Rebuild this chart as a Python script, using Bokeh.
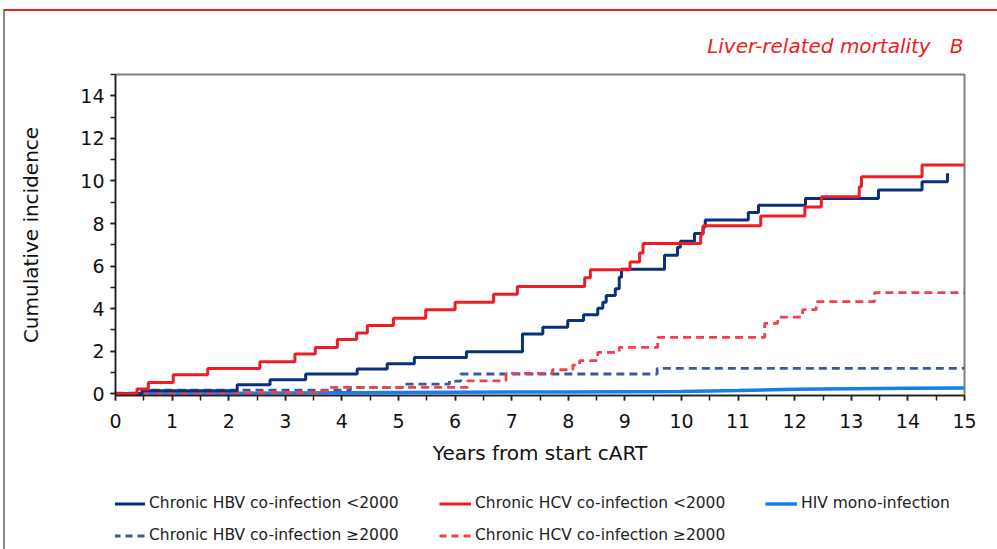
from bokeh.plotting import figure
from bokeh.layouts import column
from bokeh.models import Range1d, Legend, LegendItem, FixedTicker, InlineStyleSheet
from bokeh.embed import file_html
from bokeh.resources import INLINE

# ---- data ----
hbv_pre_x = [0, 0.47, 2.15, 2.73, 3.36, 4.27, 4.8, 5.28, 6.2, 7.19, 7.55, 7.99, 8.27, 8.52, 8.61,
             8.67, 8.83, 8.9, 8.94, 9.7, 9.93, 9.98, 10.23, 10.38, 10.42, 11.18, 11.36, 12.19,
             13.48, 14.25, 14.7]
hbv_pre_y = [0.0, 0.14, 0.42, 0.66, 0.93, 1.16, 1.41, 1.71, 1.98, 2.81, 3.13, 3.44, 3.71, 4.02, 4.3,
             4.62, 4.93, 5.48, 5.85, 6.51, 6.88, 7.17, 7.53, 7.84, 8.16, 8.52, 8.86, 9.18,
             9.57, 9.96, 10.36]

hcv_pre_x = [0, 0.38, 0.58, 1.02, 1.63, 2.55, 3.17, 3.53, 3.92, 4.26, 4.45, 4.91, 5.48, 6.0, 6.68,
             7.1, 8.29, 8.39, 9.09, 9.26, 9.32, 10.34, 10.38, 11.4, 12.18, 12.47, 13.14, 13.18,
             14.25, 15.0]
hcv_pre_y = [0.0, 0.22, 0.53, 0.9, 1.19, 1.51, 1.87, 2.18, 2.55, 2.86, 3.21, 3.55, 3.95, 4.3, 4.68,
             5.04, 5.45, 5.83, 6.19, 6.61, 7.06, 7.5, 7.9, 8.35, 8.78, 9.26, 9.73, 10.2,
             10.75, 10.75]

hbv_post_x = [0, 0.47, 4.15, 5.1, 5.9, 6.1, 9.57, 15.0]
hbv_post_y = [0.03, 0.17, 0.3, 0.45, 0.6, 0.93, 1.19, 1.19]

hcv_post_x = [0, 1.75, 3.56, 3.78, 6.22, 6.9, 7.72, 8.08, 8.2, 8.52, 8.9, 9.58, 11.47, 11.7,
              12.14, 12.38, 13.41, 15.0]
hcv_post_y = [0.0, 0.05, 0.14, 0.3, 0.61, 0.96, 1.13, 1.35, 1.56, 1.95, 2.18, 2.65, 3.31, 3.6,
              3.95, 4.33, 4.75, 4.75]

hiv_x = [0, 2, 4, 6, 8, 10, 11, 12, 13, 14, 15]
hiv_y = [0.0, 0.02, 0.05, 0.07, 0.09, 0.11, 0.15, 0.21, 0.24, 0.26, 0.27]

x_ticks = list(range(0, 16))
y_ticks = list(range(0, 15, 2))

names = ["Chronic HBV co-infection <2000", "Chronic HCV co-infection <2000", "HIV mono-infection",
         "Chronic HBV co-infection \u22652000", "Chronic HCV co-infection \u22652000"]
title_text = "Liver-related mortality\u00a0\u00a0\u00a0B"

FONT = "DejaVu Sans"
NAVY = "#0b2f78"
RED = "#ee1c25"
NAVY_D = "#3b5b98"
RED_D = "#f0404f"
BLUE = "#1480ee"

W = 997
H1, H2 = 470, 79

p = figure(width=W, height=H1, output_backend="svg", toolbar_location=None,
           x_range=Range1d(0, 15), y_range=Range1d(-0.08, 15),
           min_border_left=115, min_border_right=33, min_border_top=74, min_border_bottom=75)
p.grid.visible = False
p.outline_line_color = "#808080"
p.outline_line_width = 2
p.border_fill_color = None
p.background_fill_color = "white"
p.stylesheets = [InlineStyleSheet(css=(
    ":host { background: "
    "linear-gradient(#ee1c25, #ee1c25) 4px 9px / 100% 2px no-repeat, "
    "linear-gradient(#8a8a8a, #8a8a8a) 3px 9px / 2px 100% no-repeat, white; }"))]

# title
p.title.text = title_text
p.title.align = "right"
p.title.text_font = FONT
p.title.text_font_size = "20px"
p.title.text_font_style = "italic"
p.title.text_color = RED
p.title.standoff = 33
p.title.offset = 1

series = [(hbv_pre_x, hbv_pre_y), (hcv_pre_x, hcv_pre_y), (hiv_x, hiv_y),
          (hbv_post_x, hbv_post_y), (hcv_post_x, hcv_post_y)]

r_hiv = p.line(hiv_x, hiv_y, line_color=BLUE, line_width=3.5)
r_hbv2 = p.step(hbv_post_x, hbv_post_y, mode="after", line_color=NAVY_D, line_width=2.8, line_dash="8 5")
r_hcv2 = p.step(hcv_post_x, hcv_post_y, mode="after", line_color=RED_D, line_width=2.8, line_dash="8 5")
r_hbv1 = p.step(hbv_pre_x, hbv_pre_y, mode="after", line_color=NAVY, line_width=3)
r_hcv1 = p.step(hcv_pre_x, hcv_pre_y, mode="after", line_color=RED, line_width=3)

# axes
xa = p.xaxis[0]
xa.ticker = FixedTicker(ticks=x_ticks, minor_ticks=[i / 2 for i in range(31)])
xa.axis_label = "Years from start cART"
ya = p.yaxis[0]
ya.ticker = FixedTicker(ticks=y_ticks, minor_ticks=list(range(0, 16)))
ya.axis_label = "Cumulative incidence"
for ax in (xa, ya):
    ax.axis_line_color = "#222222"
    ax.axis_line_width = 1.5
    ax.major_tick_line_color = "#222222"
    ax.minor_tick_line_color = "#222222"
    ax.major_tick_line_width = 1.5
    ax.minor_tick_line_width = 1.5
    ax.major_tick_in = 0
    ax.minor_tick_in = 0
    ax.major_tick_out = 5
    ax.minor_tick_out = 5
    ax.major_label_text_font = FONT
    ax.major_label_text_font_size = "19px"
    ax.major_label_text_color = "#111111"
    ax.axis_label_text_font = FONT
    ax.axis_label_text_font_size = "20px"
    ax.axis_label_text_font_style = "normal"
    ax.axis_label_text_color = "#111111"
xa.major_label_standoff = 13
xa.axis_label_standoff = 10
ya.major_label_standoff = 6
ya.axis_label_standoff = 34

# legend figure below the chart (its series lie outside its visible range;
# they exist only to give the legend its line samples)
q = figure(width=W, height=H2, output_backend="svg", toolbar_location=None,
           x_range=Range1d(0, 15), y_range=Range1d(100, 101),
           min_border_left=0, min_border_right=0, min_border_top=0, min_border_bottom=0)
q.axis.visible = False
q.grid.visible = False
q.outline_line_color = None
q.border_fill_color = None
q.background_fill_color = None
q.stylesheets = [InlineStyleSheet(css=(
    ":host { background: "
    "linear-gradient(#8a8a8a, #8a8a8a) 3px 0px / 2px 100% no-repeat, white; }"))]

styles = [dict(line_color=NAVY, line_width=3),
          dict(line_color=RED, line_width=3),
          dict(line_color=BLUE, line_width=3.5),
          dict(line_color=NAVY_D, line_width=2.8, line_dash="7 5"),
          dict(line_color=RED_D, line_width=2.8, line_dash="7 5")]
items = []
for name, st, (sx, sy) in zip(names, styles, series):
    r = q.line(sx, sy, **st)
    items.append(LegendItem(label=name, renderers=[r]))

legend = Legend(items=items, location=(-2, 5), orientation="horizontal", ncols=3,
                label_text_font=FONT, label_text_font_size="15.5px", label_text_color="#222222",
                glyph_width=32, glyph_height=17, label_height=17, label_width=276,
                spacing=14, label_standoff=4,
                padding=0, margin=0, border_line_alpha=0, background_fill_alpha=0)
q.add_layout(legend, "center")

layout = column(p, q, spacing=0)
open("out.html", "w").write(file_html(layout, INLINE))
